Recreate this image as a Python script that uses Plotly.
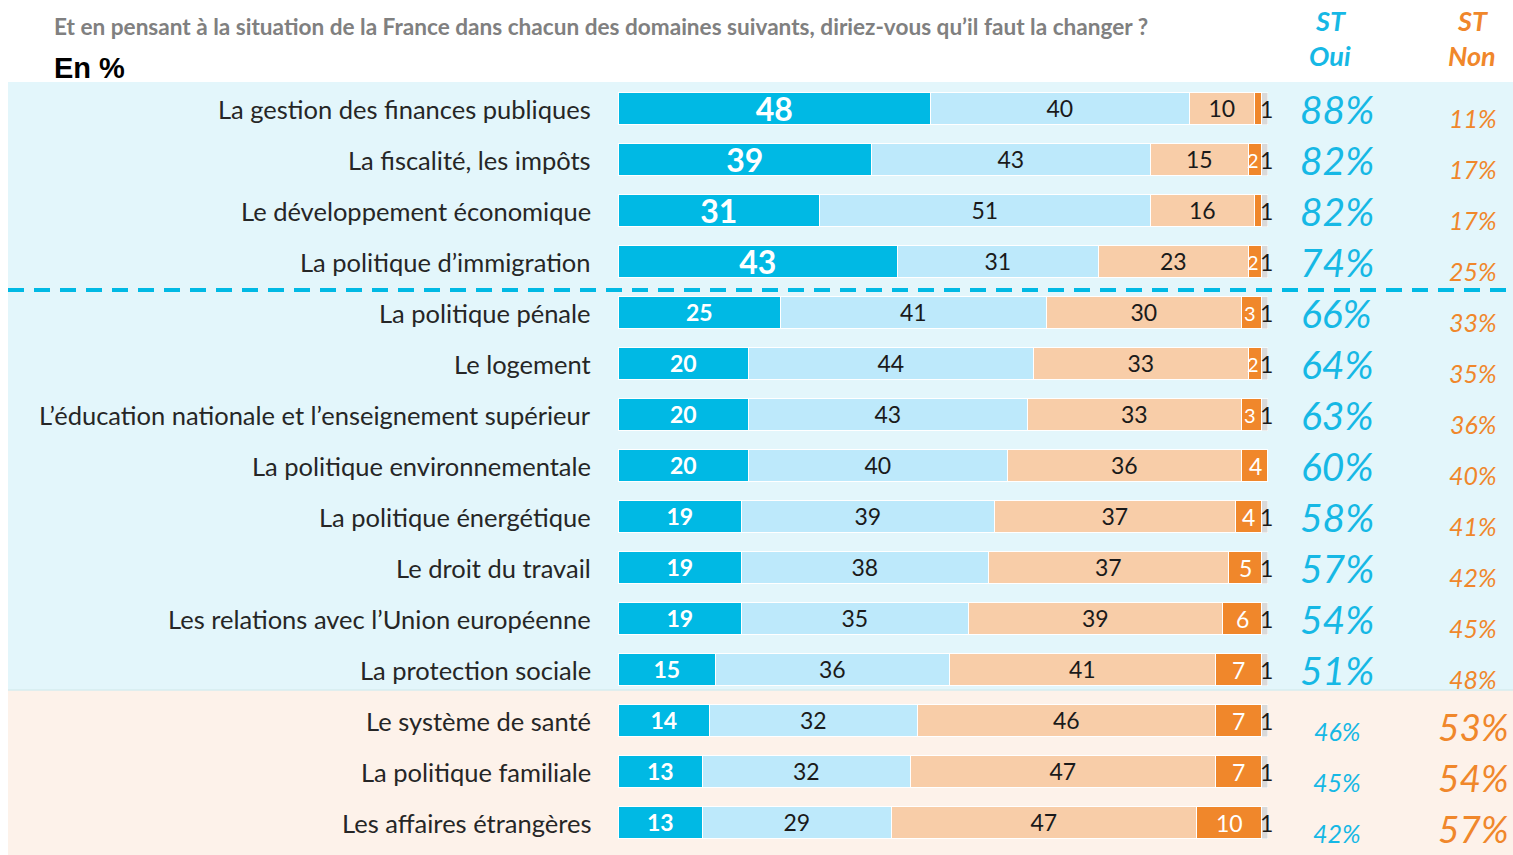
import plotly.graph_objects as go

categories = [
    "La gestion des finances publiques",
    "La fiscalité, les impôts",
    "Le développement économique",
    "La politique d\u2019immigration",
    "La politique pénale",
    "Le logement",
    "L\u2019éducation nationale et l\u2019enseignement supérieur",
    "La politique environnementale",
    "La politique énergétique",
    "Le droit du travail",
    "Les relations avec l\u2019Union européenne",
    "La protection sociale",
    "Le système de santé",
    "La politique familiale",
    "Les affaires étrangères",
]
oui_tout_a_fait = [48, 39, 31, 43, 25, 20, 20, 20, 19, 19, 19, 15, 14, 13, 13]
oui_plutot = [40, 43, 51, 31, 41, 44, 43, 40, 39, 38, 35, 36, 32, 32, 29]
non_plutot = [10, 15, 16, 23, 30, 33, 33, 36, 37, 37, 39, 41, 46, 47, 47]
non_pas_du_tout = [1, 2, 1, 2, 3, 2, 3, 4, 4, 5, 6, 7, 7, 7, 10]
nsp = [1, 1, 1, 1, 1, 1, 1, 0, 1, 1, 1, 1, 1, 1, 1]
st_oui = [88, 82, 82, 74, 66, 64, 63, 60, 58, 57, 54, 51, 46, 45, 42]
st_non = [11, 17, 17, 25, 33, 35, 36, 40, 41, 42, 45, 48, 53, 54, 57]

title_text = "Et en pensant à la situation de la France dans chacun des domaines suivants, diriez-vous qu\u2019il faut la changer ?"

C_DARK = "#00B9E4"
C_LIGHT = "#BDE9FB"
C_PEACH = "#F8CDA8"
C_ORANGE = "#F0872B"
C_GRAY = "#D9D9D9"
C_OUI = "#16B8E5"
FONT = "Lato"

n = len(categories)
ys = list(range(n))

fig = go.Figure()

fig.add_trace(go.Bar(
    y=ys, x=oui_tout_a_fait, orientation="h", marker=dict(color=C_DARK, line=dict(color="white", width=1.5)),
    width=0.63, text=[str(v) for v in oui_tout_a_fait], textposition="inside", insidetextanchor="middle",
    textangle=0,
    textfont=dict(family=FONT, color="white", size=[32 if i < 4 else 23 for i in ys], weight="bold"),
    constraintext="none", hoverinfo="skip", showlegend=False,
))
fig.add_trace(go.Bar(
    y=ys, x=oui_plutot, orientation="h", marker=dict(color=C_LIGHT, line=dict(color="white", width=1.5)),
    width=0.63, text=[str(v) for v in oui_plutot], textposition="inside", insidetextanchor="middle",
    textangle=0, textfont=dict(family=FONT, color="#1A1A1A", size=23),
    constraintext="none", hoverinfo="skip", showlegend=False,
))
fig.add_trace(go.Bar(
    y=ys, x=non_plutot, orientation="h", marker=dict(color=C_PEACH, line=dict(color="white", width=1.5)),
    width=0.63, text=[str(v) for v in non_plutot], textposition="inside", insidetextanchor="middle",
    textangle=0, textfont=dict(family=FONT, color="#1A1A1A", size=23),
    constraintext="none", hoverinfo="skip", showlegend=False,
))
fig.add_trace(go.Bar(
    y=ys, x=non_pas_du_tout, orientation="h", marker=dict(color=C_ORANGE, line=dict(color="white", width=1)),
    width=0.63, hoverinfo="skip", showlegend=False,
))
fig.add_trace(go.Bar(
    y=ys, x=nsp, orientation="h", marker=dict(color=C_GRAY, line=dict(color="white", width=0.5)),
    width=0.63, hoverinfo="skip", showlegend=False,
))

annotations = []
for i in ys:
    a = oui_tout_a_fait[i] + oui_plutot[i] + non_plutot[i]
    if non_pas_du_tout[i] >= 2:
        small = non_pas_du_tout[i] <= 3
        annotations.append(dict(x=a + non_pas_du_tout[i] / 2 - (0.3 if small else 0), y=i, xref="x", yref="y",
                                text=str(non_pas_du_tout[i]), xanchor="center", yanchor="middle",
                                showarrow=False, font=dict(family=FONT, size=20 if small else 23, color="white")))
    if nsp[i] > 0:
        b = a + non_pas_du_tout[i]
        annotations.append(dict(x=b + nsp[i] / 2 + 0.2, y=i, xref="x", yref="y", text=str(nsp[i]),
                                xanchor="center", yanchor="middle",
                                showarrow=False, font=dict(family=FONT, size=23, color="#1A1A1A")))
    annotations.append(dict(x=-4, y=i, xref="x", yref="y", text=categories[i], xanchor="right", yanchor="middle",
                            showarrow=False, font=dict(family=FONT, size=25.5, color="#262626")))
    oui_big = st_oui[i] > st_non[i]
    annotations.append(dict(x=110.6, y=i + (0 if oui_big else 0.2), xref="x", yref="y",
                            xanchor="center", yanchor="middle",
                            text="<i>%d%%</i>" % st_oui[i], showarrow=False,
                            font=dict(family=FONT, size=39 if oui_big else 25, color=C_OUI)))
    annotations.append(dict(x=131.6, y=i + (0.17 if oui_big else 0.1), xref="x", yref="y",
                            xanchor="center", yanchor="middle",
                            text="<i>%d%%</i>" % st_non[i], showarrow=False,
                            font=dict(family=FONT, size=25 if oui_big else 37, color=C_ORANGE)))

annotations += [
    dict(x=52 / 1513, y=1 - 26 / 855, xref="paper", yref="paper", xanchor="left", yanchor="middle",
         text=title_text, showarrow=False, font=dict(family=FONT, size=22.6, color="#808080", weight="bold")),
    dict(x=52 / 1513, y=1 - 68 / 855, xref="paper", yref="paper", xanchor="left", yanchor="middle",
         text="<b>En %</b>", showarrow=False, font=dict(family="Liberation Sans", size=29, color="#000000")),
    dict(x=1330 / 1513, y=1 - 20 / 855, xref="paper", yref="paper", xanchor="center", yanchor="middle",
         text="<b><i>ST</i></b>", showarrow=False, font=dict(family=FONT, size=27, color=C_OUI)),
    dict(x=1330 / 1513, y=1 - 55 / 855, xref="paper", yref="paper", xanchor="center", yanchor="middle",
         text="<b><i>Oui</i></b>", showarrow=False, font=dict(family=FONT, size=27, color=C_OUI)),
    dict(x=1472 / 1513, y=1 - 20 / 855, xref="paper", yref="paper", xanchor="center", yanchor="middle",
         text="<b><i>ST</i></b>", showarrow=False, font=dict(family=FONT, size=27, color=C_ORANGE)),
    dict(x=1472 / 1513, y=1 - 55 / 855, xref="paper", yref="paper", xanchor="center", yanchor="middle",
         text="<b><i>Non</i></b>", showarrow=False, font=dict(family=FONT, size=27, color=C_ORANGE)),
]

shapes = [
    dict(type="rect", xref="paper", yref="paper", x0=8 / 1513, x1=1, y0=1 - 690 / 855, y1=1 - 82 / 855,
         fillcolor="#E3F6FB", line=dict(width=0), layer="below"),
    dict(type="rect", xref="paper", yref="paper", x0=8 / 1513, x1=1, y0=0, y1=1 - 690 / 855,
         fillcolor="#FDF2EA", line=dict(width=0), layer="below"),
    dict(type="line", xref="paper", yref="paper", x0=8 / 1513, x1=1, y0=1 - 690 / 855, y1=1 - 690 / 855,
         line=dict(color="#D6ECEF", width=1.5), layer="below"),
    dict(type="line", xref="paper", yref="paper", x0=8 / 1513, x1=1, y0=1 - 290 / 855, y1=1 - 290 / 855,
         line=dict(color="#00B9E4", width=4, dash="16px,10px"), layer="above"),
]

x0px, scale = 619, 6.49
fig.update_layout(
    width=1513, height=855, barmode="stack",
    margin=dict(l=0, r=0, t=0, b=0),
    paper_bgcolor="white", plot_bgcolor="rgba(0,0,0,0)",
    xaxis=dict(range=[-x0px / scale, (1513 - x0px) / scale], visible=False, fixedrange=True),
    yaxis=dict(range=[(855 - 109) / 51, -109 / 51], visible=False, fixedrange=True),
    annotations=annotations, shapes=shapes, bargap=0,
)

fig.write_html("out.html", config={"displayModeBar": False},
               post_script="document.body.style.margin='0';document.body.style.overflow='hidden';")
